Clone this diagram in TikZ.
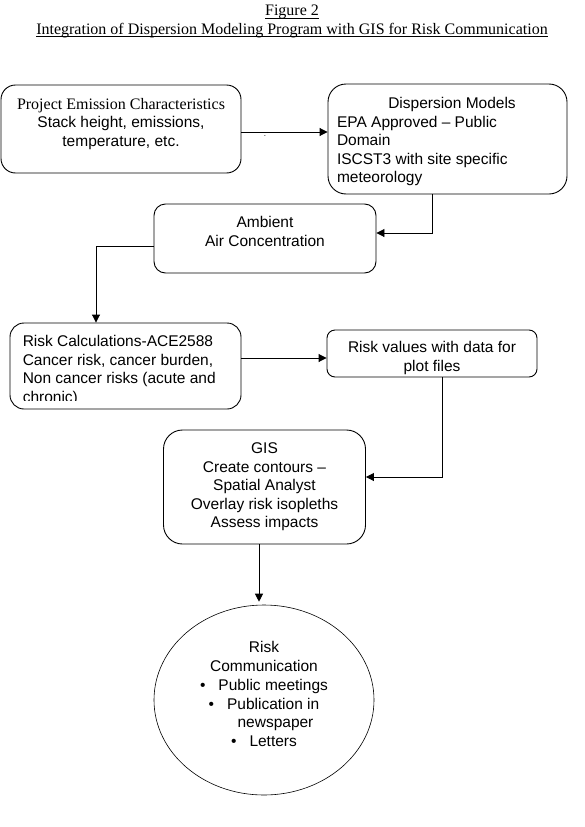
\documentclass[tikz,border=0pt]{standalone}
\usepackage{fontspec}
\setmainfont{Liberation Sans}
\newfontfamily\tnr{Liberation Serif}
\usetikzlibrary{arrows.meta,shapes.geometric}
\newcommand\ulx[1]{\setbox0\hbox{#1}\rlap{\rule[-2.5pt]{\wd0}{0.7pt}}\box0}
\newcommand\tb[4]{\parbox[c][#2][t]{#1}{\vspace*{#3}#4}}
\begin{document}
\begin{tikzpicture}[x=1pt,y=-1pt,
  box/.style={draw, line width=0.9pt, inner sep=0pt, font=\fontsize{15.5}{18.5}\selectfont},
  arr/.style={line width=0.9pt, -{Triangle[length=8pt,width=8pt]}},
  txt/.style={inner sep=0pt, font=\fontsize{15.5}{18.5}\selectfont},
  serif/.style={inner sep=0pt, font=\tnr\fontsize{16}{18.5}\selectfont}]
\useasboundingbox (0,0) rectangle (585,827);

% title
\node[serif, anchor=base] (fig) at (292,16) {\ulx{Figure 2}};
\node[serif, anchor=base] (title) at (292,34) {\ulx{Integration of Dispersion Modeling Program with GIS for Risk Communication}};

% boxes
\node[box, rounded corners=14.5pt] (b1) at (121,129)
  {\tb{240pt}{88pt}{13pt}{\centering {\tnr\fontsize{16}{18.5}\selectfont Project Emission Characteristics}\\ Stack height, emissions,\\ temperature, etc.}};
\node[box, rounded corners=18pt] (b2) at (447.5,139)
  {\tb{239pt}{110pt}{13.5pt}{\parindent0pt\leftskip9pt\rightskip0pt plus 1fil
   \makebox[230pt]{Dispersion Models}\\ EPA Approved – Public\\ Domain\\ ISCST3 with site specific\\ meteorology}};
\node[box, rounded corners=11.5pt] (b3) at (265,238.5)
  {\tb{222pt}{69pt}{12.5pt}{\centering Ambient\\ Air Concentration}};
\node[box, rounded corners=14pt, minimum width=231pt, minimum height=86pt] (b4) at (125.5,366) {};
\begin{scope}
  \clip (b4.north west) rectangle ([yshift=9pt]b4.south east);
  \node[txt, anchor=north west] (t4) at ([xshift=13pt]b4.north west)
    {\tb{215pt}{77pt}{12.5pt}{\fontsize{15.5}{18.7}\selectfont\raggedright Risk Calculations-ACE2588\\ Cancer risk, cancer burden,\\ Non cancer risks (acute and\\ chronic)}};
\end{scope}
\node[box, rounded corners=8pt] (b5) at (432,353.5)
  {\tb{210pt}{47pt}{11.5pt}{\centering Risk values with data for\\ plot files}};
\node[box, rounded corners=19pt] (b6) at (264.5,487)
  {\tb{202pt}{114pt}{13pt}{\centering GIS\\ Create contours –\\ Spatial Analyst\\ Overlay risk isopleths\\ Assess impacts}};
\node[draw, ellipse, line width=0.6pt, minimum width=220pt, minimum height=190pt, inner sep=0pt] (ell) at (264,700) {};
\node[txt, anchor=north] (et) at (264,630)
  {\tb{220pt}{130pt}{11.5pt}{\fontsize{15.5}{18.7}\selectfont\centering Risk\\ Communication\\
   \textbullet\hspace*{13pt}Public meetings\\ \textbullet\hspace*{13pt}Publication in\\
   \hspace*{23pt}newspaper\\ \textbullet\hspace*{13pt}Letters}};
\node[inner sep=0pt, font=\fontsize{8}{8}\selectfont] (dot) at (265,136) {.};

% connectors
\coordinate (c1) at ([yshift=-3pt]b1.east);
\draw[arr] (c1) -- (c1 -| b2.west);
\coordinate (c2) at ([yshift=5.5pt]b3.east);
\draw[arr] ([xshift=-15.5pt]b2.south) |- (c2);
\draw[arr] ([yshift=-7.5pt]b3.west) -| ([xshift=-29.5pt]b4.north);
\coordinate (c4) at ([yshift=8pt]b4.east);
\draw[arr] (c4) -- (c4 -| b5.west);
\coordinate (c5) at ([yshift=10pt]b6.east);
\draw[arr] ([xshift=10pt]b5.south) |- (c5);
\draw[arr, shorten >=3pt] ([xshift=-5.5pt]b6.south) -- ([xshift=-5.5pt]b6.south |- ell.north);
\end{tikzpicture}
\end{document}
